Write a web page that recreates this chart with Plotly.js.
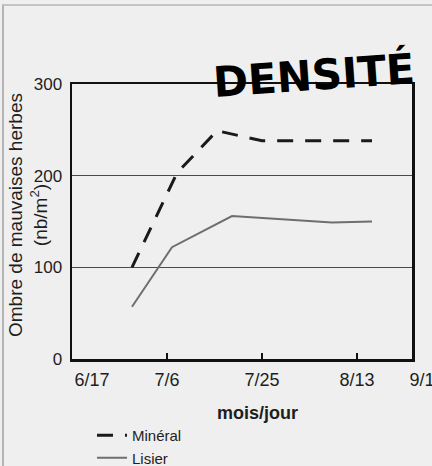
<!DOCTYPE html>
<html>
<head>
<meta charset="utf-8">
<script src="https://cdn.plot.ly/plotly-3.0.1.min.js"></script>
<style>
  html, body { margin: 0; padding: 0; background: #efefef; overflow: hidden; }
  #frame { position: absolute; left: 2px; top: 4px; width: 432px; height: 466px;
           border-left: 2px solid #b4b4b4; border-top: 2px solid #c4c4c4; }
  #chart { position: absolute; left: 0; top: 0; width: 432px; height: 466px; }
</style>
</head>
<body>
<div id="frame"></div>
<div id="chart"></div>
<script>
// Days since 17 June
const tickDays   = [0, 19, 38, 57, 68];
const tickLabels = ['\u00a0\u00a0\u00a0\u00a0\u00a0\u00a0\u00a0\u00a06/17', '7/6', '7/25', '8/13', '\u00a0\u00a0\u00a0\u00a09/1'];

const mineralDays   = [12, 21, 29, 38, 60];
const mineralValues = [100, 203, 249, 238, 238];

const lisierDays   = [12, 20, 32, 52, 60];
const lisierValues = [57, 122, 156, 149, 150];

const yTicks = [0, 100, 200, 300];

const FONT = '"Liberation Sans", Arial, Helvetica, sans-serif';

const traces = [
  {
    x: mineralDays, y: mineralValues, name: 'Minéral', type: 'scatter', mode: 'lines',
    line: { color: '#1a1a1a', width: 3, dash: '16px,12px' }
  },
  {
    x: lisierDays, y: lisierValues, name: 'Lisier', type: 'scatter', mode: 'lines',
    line: { color: '#6e6e6e', width: 2 }
  }
];

const layout = {
  width: 432, height: 466,
  paper_bgcolor: 'rgba(0,0,0,0)', plot_bgcolor: 'rgba(0,0,0,0)',
  margin: { l: 72, r: 20, t: 84, b: 107, autoexpand: false },
  font: { family: FONT, color: '#1e1e1e', size: 17 },
  showlegend: true,
  legend: {
    x: (92 - 72) / 340, y: (359 - 419) / 275, xanchor: 'left', yanchor: 'top',
    bgcolor: 'rgba(0,0,0,0)', font: { family: FONT, size: 15, color: '#1e1e1e' },
    tracegroupgap: 0
  },
  xaxis: {
    range: [0, 68], tickmode: 'array', tickvals: tickDays, ticktext: tickLabels,
    ticks: 'inside', ticklen: 6, tickwidth: 2, tickcolor: '#111',
    showline: true, linecolor: '#111', linewidth: 2.5, mirror: true,
    showgrid: false, zeroline: false, ticklabelstandoff: 3, ticklabeloverflow: 'allow',
    tickfont: { family: FONT, size: 18, color: '#1e1e1e' }, fixedrange: true
  },
  yaxis: {
    range: [0, 300], tickmode: 'array', tickvals: yTicks,
    ticks: '', showline: true, linecolor: '#111', linewidth: 2.5, mirror: true,
    showgrid: true, gridcolor: '#4a4a4a', gridwidth: 1.5, zeroline: false,
    ticklabelstandoff: 4,
    tickfont: { family: FONT, size: 17, color: '#1e1e1e' }, fixedrange: true
  },
  annotations: [
    {
      text: 'DENSITÉ', xref: 'paper', yref: 'paper',
      x: (314 - 72) / 340, y: (359 - 75) / 275, xanchor: 'center', yanchor: 'middle',
      showarrow: false, textangle: -4,
      font: { family: '"DejaVu Sans", sans-serif', size: 42, color: '#000', weight: 'bold' }
    },
    {
      text: '<b>mois/jour</b>', xref: 'paper', yref: 'paper',
      x: (257 - 72) / 340, y: (359 - 413) / 275, xanchor: 'center', yanchor: 'middle',
      showarrow: false, font: { family: FONT, size: 18, color: '#1e1e1e' }
    },
    {
      text: 'Ombre de mauvaises herbes<br>(nb/m<sup>2</sup>)', xref: 'paper', yref: 'paper',
      x: (28 - 72) / 340, y: (359 - 215) / 275, xanchor: 'center', yanchor: 'middle',
      showarrow: false, textangle: -90, font: { family: FONT, size: 19, color: '#1e1e1e' }
    }
  ]
};

Plotly.newPlot('chart', traces, layout, { staticPlot: true, displayModeBar: false });
</script>
</body>
</html>
